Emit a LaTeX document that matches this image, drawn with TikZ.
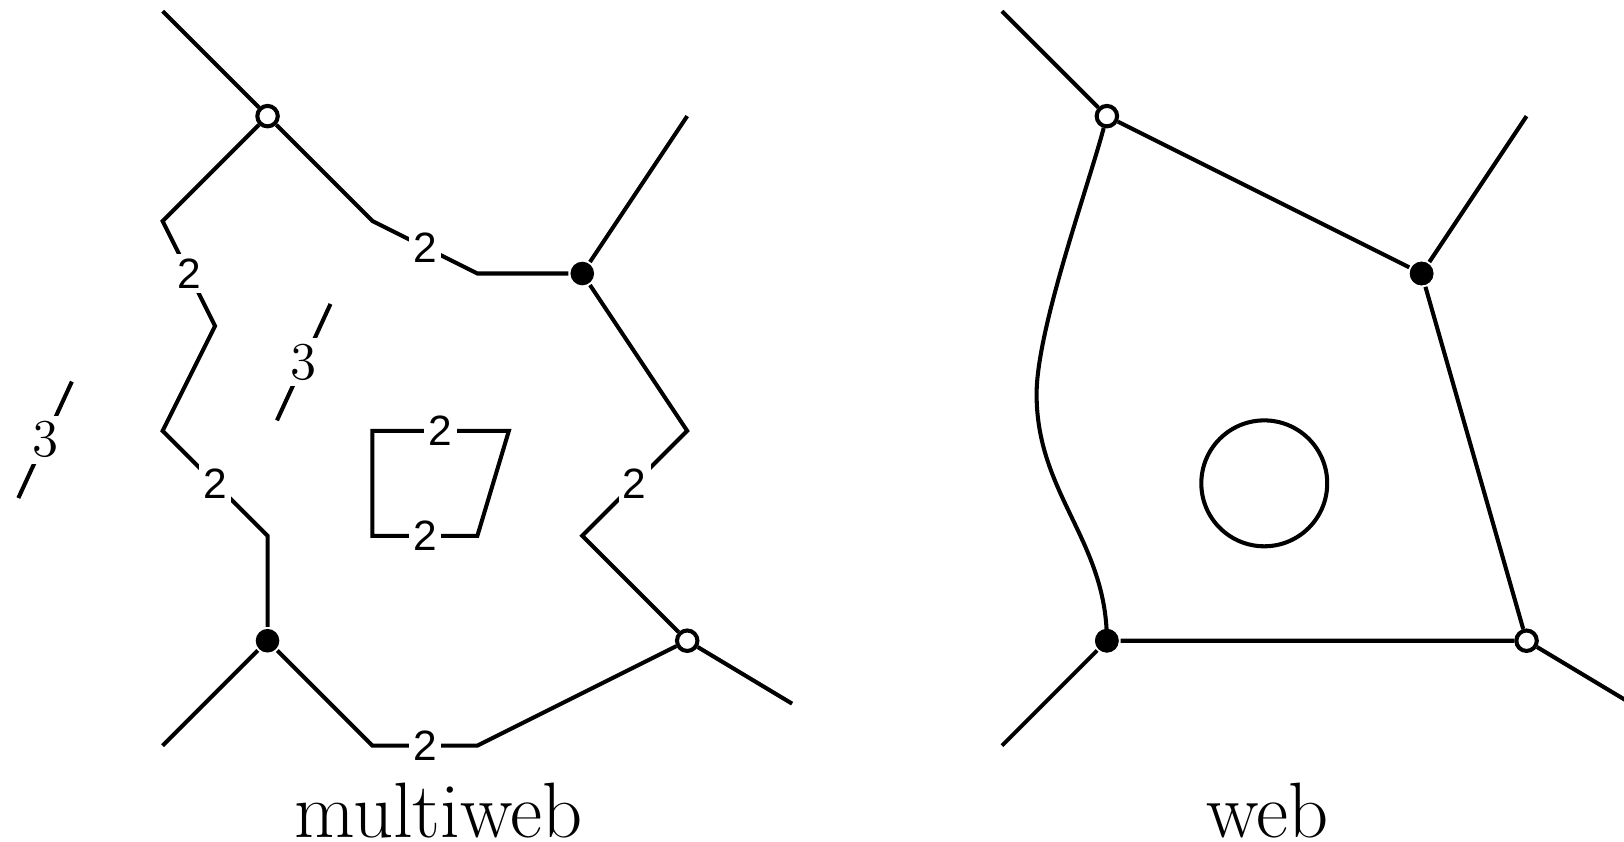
\documentclass[tikz,border=0pt]{standalone}
\usepackage{fontspec}
\newfontfamily\labfont{Liberation Sans}
\begin{document}
\begin{tikzpicture}[
  line width=1.1pt, line join=miter,
  edge/.style={line width=1.1pt},
  wv/.style={circle, draw, fill=white, line width=1.1pt, inner sep=0pt, minimum size=0.195cm},
  bv/.style={circle, fill=black, inner sep=0pt, minimum size=0.225cm},
  lab/.style={fill=white, inner sep=1.2pt, font=\labfont\fontsize{11.5}{13}\selectfont},
  labthree/.style={fill=white, inner sep=1.5pt, font=\fontsize{14.4}{17}\selectfont},
  captext/.style={anchor=base, font=\fontsize{21.3}{25}\selectfont}
]
\useasboundingbox (-1.55,-0.918) rectangle (13.929,7.107);

% ---------- multiweb ----------
\node[wv] (A) at (1,6) {};
\node[bv] (B) at (4,4.5) {};
\node[wv] (C) at (5,1) {};
\node[bv] (D) at (1,1) {};

\coordinate (Al) at (0,7);
\coordinate (Bl) at (5,6);
\coordinate (Cl) at (6,0.4);
\coordinate (Dl) at (0,0);

\coordinate (p1) at (0,5);
\coordinate (p2) at (0.5,4);
\coordinate (p3) at (0,3);
\coordinate (p4) at (1,2);
\coordinate (q1) at (2,5);
\coordinate (q2) at (3,4.5);
\coordinate (r1) at (5,3);
\coordinate (r2) at (4,2);
\coordinate (s1) at (3,0);
\coordinate (s2) at (2,0);

\draw[edge] (A) -- (Al);
\draw[edge] (B) -- (Bl);
\draw[edge] (C) -- (Cl);
\draw[edge] (D) -- (Dl);

\draw[edge] (A) -- (p1) -- node[lab] {2} (p2) -- (p3) -- node[lab] {2} (p4) -- (D);
\draw[edge] (A) -- (q1) -- node[lab] {2} (q2) -- (B);
\draw[edge] (B) -- (r1) -- node[lab] {2} (r2) -- (C);
\draw[edge] (C) -- (s1) -- node[lab] {2} (s2) -- (D);

% inner loop
\coordinate (t1) at (2,3);
\coordinate (t2) at (3.3,3);
\coordinate (t3) at (3,2);
\coordinate (t4) at (2,2);
\draw[edge] (t1) -- node[lab, pos=0.5] {2} (t2) -- (t3) -- node[lab] {2} (t4) -- cycle;

% arcs labelled 3
\coordinate (u1) at (-1.375,2.36);
\coordinate (u2) at (-0.865,3.47);
\coordinate (v1) at (1.09,3.1);
\coordinate (v2) at (1.6,4.21);
\draw[edge] (u1) -- node[labthree] {3} (u2);
\draw[edge] (v1) -- node[labthree] {3} (v2);

\node[captext] (cap1) at (2.63,-0.873) {multiweb};

% ---------- web ----------
\node[wv] (A2) at (9,6) {};
\node[bv] (B2) at (12,4.5) {};
\node[wv] (C2) at (13,1) {};
\node[bv] (D2) at (9,1) {};

\coordinate (A2l) at (8,7);
\coordinate (B2l) at (13,6);
\coordinate (C2l) at (14,0.4);
\coordinate (D2l) at (8,0);
\coordinate (w1) at (8.33,3.35);

\draw[edge] (A2) -- (A2l);
\draw[edge] (B2) -- (B2l);
\draw[edge] (C2) -- (C2l);
\draw[edge] (D2) -- (D2l);

\draw[edge] (A2) -- (B2) -- (C2) -- (D2);
\draw[edge] (D2.center) to[out=90, in=-90, looseness=1] (w1) to[out=90, in=-105, looseness=0.6] (A2);

\node[circle, draw, line width=1.1pt, minimum size=1.2cm, inner sep=0pt] (O) at (10.5,2.5) {};

\node[bv] at (D2) {};
\node[bv] at (B2) {};

\node[captext] (cap2) at (10.53,-0.873) {web};
\end{tikzpicture}
\end{document}
